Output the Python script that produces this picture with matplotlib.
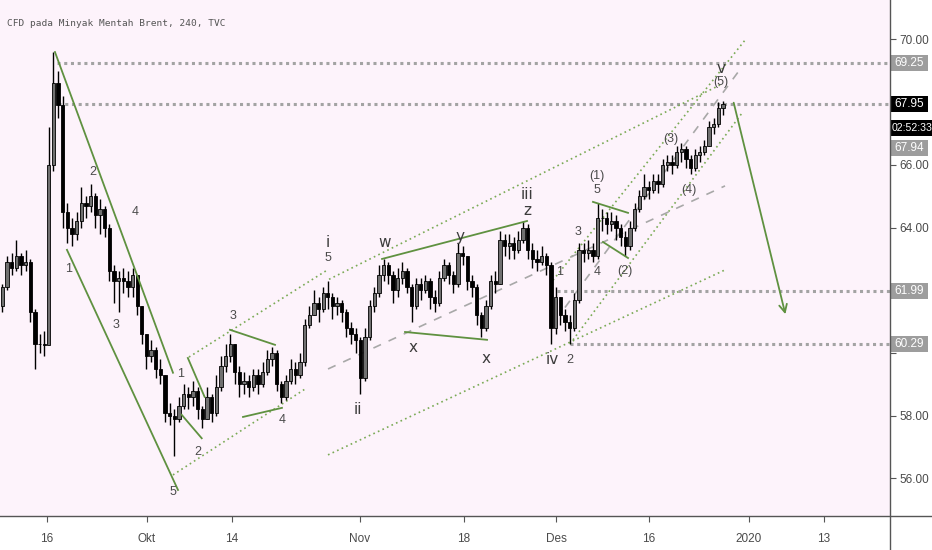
import numpy as np
import matplotlib.pyplot as plt
from matplotlib.lines import Line2D
from matplotlib.patches import Rectangle
import matplotlib.transforms as mtransforms

# candles, 2 per trading day, day 0 = 9 Sep 2019
closes = [62.1, 62.9, 62.7, 63.1, 62.8, 62.9, 61.3, 60.3, 60.3, 60.25,
          66.0, 68.6, 67.9, 64.5, 64.0, 63.8, 64.2, 64.8, 64.7, 65.0,
          64.4, 64.6, 64.0, 62.6, 62.3, 62.4, 62.3, 62.1, 62.5, 61.5,
          60.6, 59.9, 60.1, 59.5, 59.3, 58.1, 58.0, 57.9, 58.3, 58.7,
          58.6, 58.8, 58.2, 57.9, 58.6, 58.1, 58.9, 59.6, 59.9, 60.3,
          59.4, 59.0, 59.1, 58.9, 59.3, 59.0, 59.4, 59.8, 60.0, 59.0,
          58.6, 59.1, 59.5, 59.3, 59.7, 60.9, 61.2, 61.6, 61.4, 61.9,
          61.8, 61.5, 61.6, 61.3, 60.8, 60.6, 60.4, 59.2, 60.5, 61.5,
          61.9, 62.5, 62.8, 62.5, 62.0, 62.4, 62.6, 62.1, 61.5, 62.2,
          62.0, 62.3, 61.8, 61.6, 62.4, 62.8, 62.5, 62.2, 63.2, 63.1,
          62.3, 62.1, 61.2, 60.8, 61.5, 62.3, 62.2, 63.6, 63.4, 63.5,
          63.3, 63.6, 64.0, 63.3, 63.0, 62.9, 63.1, 62.8, 60.8, 61.8,
          61.2, 61.0, 60.8, 61.7, 63.3, 63.2, 63.3, 63.1, 64.3, 64.3,
          64.1, 64.2, 64.0, 63.7, 63.4, 64.0, 64.6, 65.0, 65.3, 65.2,
          65.5, 65.4, 66.0, 66.1, 66.0, 66.4, 66.5, 66.2, 65.9, 66.3,
          66.4, 66.6, 67.2, 67.3, 67.8, 67.95]
highs = [62.2, 63.1, 63.2, 63.6, 63.2, 63.3, 63.0, 61.4, 60.6, 60.7,
         67.2, 69.6, 69.0, 68.2, 64.8, 64.3, 64.5, 65.3, 65.0, 65.4,
         65.1, 64.9, 64.7, 64.1, 62.8, 62.6, 62.7, 62.6, 62.7, 62.5,
         61.5, 60.6, 60.4, 60.2, 59.8, 59.3, 58.4, 58.2, 58.6, 59.0,
         58.9, 59.1, 58.9, 58.3, 58.9, 58.7, 59.3, 59.9, 60.3, 60.6,
         60.3, 59.6, 59.4, 59.3, 59.5, 59.5, 59.7, 60.1, 60.2, 60.1,
         59.1, 59.3, 59.8, 59.7, 60.0, 61.1, 61.5, 62.0, 61.8, 62.1,
         62.3, 61.9, 61.8, 61.7, 61.4, 61.0, 60.8, 60.5, 60.8, 61.7,
         62.1, 62.8, 63.0, 62.9, 62.6, 62.7, 62.9, 62.7, 62.2, 62.4,
         62.4, 62.5, 62.4, 62.0, 62.6, 63.0, 62.9, 62.6, 63.5, 63.4,
         63.1, 62.5, 62.2, 61.3, 61.7, 62.5, 62.6, 63.9, 63.8, 63.8,
         63.7, 63.9, 64.2, 64.1, 63.5, 63.3, 63.4, 63.2, 62.9, 62.1,
         61.8, 61.4, 61.2, 61.9, 63.5, 63.5, 63.6, 63.5, 64.8, 64.6,
         64.5, 64.5, 64.4, 64.1, 63.9, 64.2, 64.8, 65.2, 65.7, 65.5,
         65.7, 65.7, 66.2, 66.3, 66.3, 66.6, 66.7, 66.6, 66.3, 66.5,
         66.6, 66.8, 67.4, 67.5, 68.0, 68.05]
lows = [61.3, 62.0, 62.5, 62.6, 62.5, 62.6, 61.0, 59.5, 60.0, 59.9,
        64.8, 65.8, 67.5, 64.0, 63.5, 63.4, 63.6, 64.0, 64.3, 64.5,
        64.0, 63.8, 63.7, 62.3, 61.6, 61.3, 61.9, 61.8, 61.8, 61.2,
        60.3, 59.5, 59.7, 59.2, 59.0, 57.8, 57.7, 56.7, 57.8, 58.2,
        58.2, 58.3, 57.9, 57.6, 57.9, 57.8, 58.0, 58.8, 59.4, 59.7,
        59.0, 58.6, 58.7, 58.6, 58.8, 58.7, 58.9, 59.3, 59.6, 58.8,
        58.4, 58.5, 59.0, 59.0, 59.2, 59.6, 60.8, 61.2, 61.0, 61.3,
        61.4, 61.1, 61.2, 61.0, 60.5, 60.3, 60.0, 58.7, 59.1, 60.4,
        61.3, 61.8, 62.3, 62.2, 61.6, 61.8, 62.2, 61.9, 61.0, 61.4,
        61.7, 61.9, 61.4, 61.3, 61.5, 62.3, 62.2, 61.9, 62.1, 62.8,
        62.0, 61.8, 60.9, 60.5, 60.7, 61.4, 61.9, 62.2, 63.1, 63.0,
        63.0, 63.2, 63.5, 63.0, 62.7, 62.6, 62.8, 62.5, 60.3, 60.6,
        60.9, 60.7, 60.29, 60.7, 61.6, 62.9, 63.0, 62.9, 63.0, 63.9,
        63.8, 63.9, 63.6, 63.4, 63.1, 63.3, 63.9, 64.5, 64.9, 64.9,
        65.1, 65.1, 65.3, 65.8, 65.7, 65.9, 66.1, 65.9, 65.7, 65.8,
        66.1, 66.3, 66.6, 67.0, 67.2, 67.6]
first_open = 61.5

tick_days = [5.05, 15.8, 24.95, 38.7, 49.9, 59.8, 69.8, 80.5, 88.6]
tick_labels = ['16', 'Okt', '14', 'Nov', '18', 'Des', '16', '2020', '13']
price_ticks = [56, 58, 60, 62, 64, 66, 68, 70]
hidden_ticks = [60, 62, 68]  # covered by the price boxes

# horizontal levels: (start day, price)
levels = [(6.1, 69.25), (6.2, 67.95), (59.9, 61.99), (61.3, 60.29)]

# elliott wave drawings, (day, price) pairs
solid_lines = [
    [(5.91, 69.60), (18.60, 59.37)],
    [(7.20, 63.29), (19.14, 55.63)],
    [(20.2, 59.84), (22.0, 58.60)],
    [(19.53, 58.03), (21.69, 57.28)],
    [(24.73, 60.74), (29.57, 60.26)],
    [(26.13, 57.96), (30.32, 58.25)],
    [(41.08, 63.00), (56.67, 64.21)],
    [(43.55, 60.67), (52.37, 60.42)],
    [(63.76, 64.82), (67.53, 64.47)],
    [(64.84, 63.54), (67.53, 63.03)],
]
dotted_lines = [
    [(18.60, 56.11), (33.01, 58.89)],
    [(20.32, 59.87), (35.16, 62.64)],
    [(35.38, 62.35), (77.63, 68.58)],
    [(35.27, 56.75), (77.96, 62.65)],
    [(59.46, 62.32), (80.11, 69.98)],
    [(61.29, 60.29), (79.78, 67.65)],
]
dashed_lines = [
    [(35.27, 59.49), (77.96, 65.33)],
    [(60.75, 61.45), (79.78, 69.13)],
]
arrow_line = [(78.82, 68.07), (84.52, 61.15)]

wave_labels = [
    ('1', 7.42, 62.68), ('2', 10.0, 65.77), ('3', 12.47, 60.90),
    ('4', 14.52, 64.50), ('5', 18.60, 55.57),
    ('1', 19.46, 59.33), ('2', 21.29, 56.85), ('3', 25.05, 61.18),
    ('4', 30.32, 57.87),
    ('1', 60.22, 62.59), ('2', 61.29, 59.78), ('3', 62.15, 63.86),
    ('4', 64.19, 62.59), ('5', 64.19, 65.20),
    ('(1)', 64.19, 65.65), ('(2)', 67.20, 62.62), ('(3)', 72.15, 66.83),
    ('(4)', 74.09, 65.20), ('(5)', 77.53, 68.64), ('5', 35.27, 63.03),
]
big_labels = [
    ('i', 35.27, 63.51), ('ii', 38.49, 58.19), ('iii', 56.67, 65.07),
    ('iv', 59.35, 59.78), ('v', 77.53, 69.09),
    ('w', 41.40, 63.54), ('x', 44.41, 60.16), ('y', 49.46, 63.73),
    ('x', 52.26, 59.84), ('z', 56.67, 64.56),
]

# price boxes on the right axis: (price, text, colour, font size)
boxes = [(69.25, '69.25', '#9d9d9d', 8.5), (67.95, '67.95', '#000000', 8.5),
         (67.17, '02:52:33', '#000000', 7.6), (66.55, '67.94', '#9d9d9d', 8.5),
         (61.99, '61.99', '#9d9d9d', 8.5), (60.29, '60.29', '#9d9d9d', 8.5)]

narrow = ['Liberation Sans', 'DejaVu Sans']

fig = plt.figure(figsize=(9.32, 5.5), dpi=100, facecolor='white')
ax = fig.add_axes([0, 34 / 550, 890 / 932, 516 / 550])
ax.set_facecolor('#fdf3fb')

closes = np.array(closes)
highs = np.array(highs)
lows = np.array(lows)
opens = np.concatenate([[first_open], closes[:-1]])
x = np.arange(len(closes)) * 0.5 + 0.25
up = closes >= opens

ax.vlines(x, lows, highs, color='black', lw=1.0, zorder=3)
ax.bar(x[up], closes[up] - opens[up], bottom=opens[up], width=0.36,
       color='#707070', edgecolor='black', lw=0.6, zorder=4)
ax.bar(x[~up], closes[~up] - opens[~up], bottom=opens[~up], width=0.36,
       color='black', edgecolor='black', lw=0.6, zorder=4)

xmax = 890 / 9.3
for d0, p in levels:
    ax.plot([d0, xmax], [p, p], color='#a3a3a3', lw=2.2,
            ls=(0, (1, 1.2)), zorder=2)

for seg in solid_lines:
    (x0, y0), (x1, y1) = seg
    ax.plot([x0, x1], [y0, y1], color='#5f9140', lw=1.3, zorder=5)
for seg in dotted_lines:
    (x0, y0), (x1, y1) = seg
    ax.plot([x0, x1], [y0, y1], color='#7aaa55', lw=1.2,
            ls=(0, (1, 2)), zorder=2)
for seg in dashed_lines:
    (x0, y0), (x1, y1) = seg
    ax.plot([x0, x1], [y0, y1], color='#a8a8a8', lw=1.2,
            ls=(0, (5, 5)), zorder=2)
ax.annotate('', xy=arrow_line[1], xytext=arrow_line[0],
            arrowprops=dict(arrowstyle='->', color='#5f9140', lw=1.3,
                            mutation_scale=14), zorder=5)

for t, d, p in wave_labels:
    ax.text(d, p, t, ha='center', va='center', fontsize=9,
            color='#4a4a4a', family=narrow, zorder=6)
for t, d, p in big_labels:
    ax.text(d, p, t, ha='center', va='center', fontsize=11,
            color='#3c3c3c', family='DejaVu Sans', zorder=6)

ax.text(7 / 890, 1 - 23 / 516, 'CFD pada Minyak Mentah Brent, 240, TVC',
        transform=ax.transAxes, ha='left', va='center', fontsize=6.8,
        color='#555555', family='DejaVu Sans Mono')

ax.set_xlim(0, xmax)
ax.set_ylim(54.80, 71.26)
ax.set_xticks(tick_days)
ax.set_xticklabels(tick_labels, family=narrow)
ax.yaxis.tick_right()
ax.set_yticks(price_ticks)
ax.set_yticklabels(['' if v in hidden_ticks else '%.2f' % v
                    for v in price_ticks], family=narrow)
ax.tick_params(axis='both', length=4, width=0.8, color='#555555',
               labelcolor='#4a4a4a', labelsize=8.5)
ax.tick_params(axis='x', pad=8)
ax.tick_params(axis='y', pad=3)
for s in ['left', 'top', 'right', 'bottom']:
    ax.spines[s].set_visible(False)

# boxes: pixel sizes turned into axes / data units
px_x = 1 / 890
px_y = (71.26 - 54.80) / 516
trans = mtransforms.blended_transform_factory(ax.transAxes, ax.transData)
for p, t, c, fs in boxes:
    w = 42 if ':' in t else 37
    ax.add_patch(Rectangle((1 + 1 * px_x, p - 8 * px_y), w * px_x, 16 * px_y,
                           transform=trans, fc=c, ec='none', clip_on=False,
                           zorder=9))
    ax.text(1 + (1 + w / 2) * px_x, p, t, transform=trans, ha='center',
            va='center', fontsize=fs, color='white', family=narrow,
            clip_on=False, zorder=10)

fig.add_artist(Line2D([890 / 932, 890 / 932], [0, 1], color='#555555',
                      lw=1, transform=fig.transFigure))
fig.add_artist(Line2D([0, 1], [34 / 550, 34 / 550], color='#555555',
                      lw=1, transform=fig.transFigure))

fig.savefig('out.png', dpi=100, facecolor='white')
